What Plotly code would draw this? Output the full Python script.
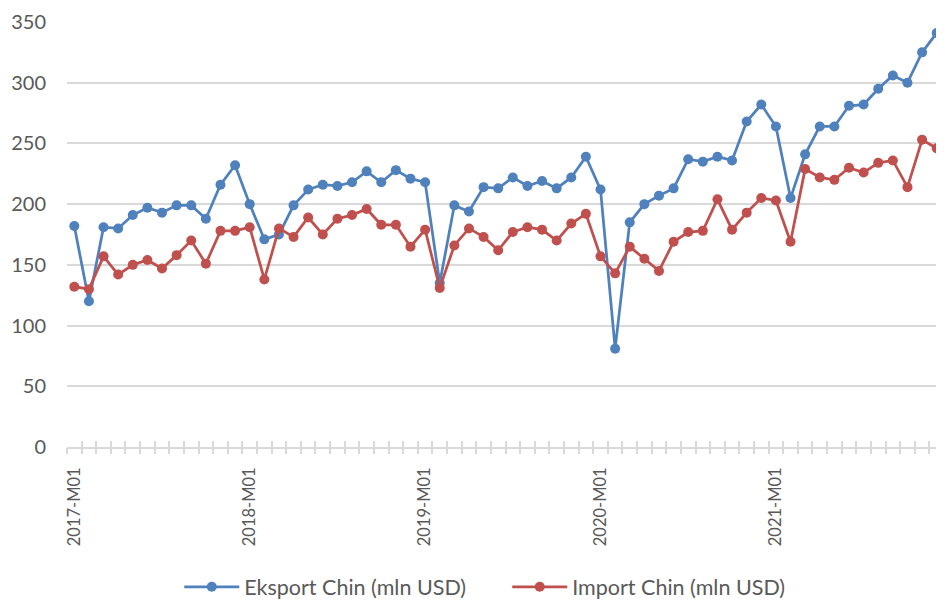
import plotly.graph_objects as go

months = [f"{y}-M{m:02d}" for y in range(2017, 2022) for m in range(1, 13)]

eksport = [182, 120, 181, 180, 191, 197, 193, 199, 199, 188, 216, 232,
           200, 171, 175, 199, 212, 216, 215, 218, 227, 218, 228, 221,
           218, 135, 199, 194, 214, 213, 222, 215, 219, 213, 222, 239,
           212, 81, 185, 200, 207, 213, 237, 235, 239, 236, 268, 282,
           264, 205, 241, 264, 264, 281, 282, 295, 306, 300, 325, 341]

import_ = [132, 130, 157, 142, 150, 154, 147, 158, 170, 151, 178, 178,
           181, 138, 180, 173, 189, 175, 188, 191, 196, 183, 183, 165,
           179, 131, 166, 180, 173, 162, 177, 181, 179, 170, 184, 192,
           157, 143, 165, 155, 145, 169, 177, 178, 204, 179, 193, 205,
           203, 169, 229, 222, 220, 230, 226, 234, 236, 214, 253, 246]

label_idx = [0, 12, 24, 36, 48]

FONT = "Lato"
TXT = "#595959"
GRID = "#d9d9d9"
BLUE = "#4F81BD"
RED = "#C0504D"

x = list(range(len(months)))

fig = go.Figure()
fig.add_trace(go.Scatter(x=x, y=eksport, mode="lines+markers", name="Eksport Chin (mln USD)",
                         line=dict(color=BLUE, width=2.75), marker=dict(color=BLUE, size=10),
                         cliponaxis=False))
fig.add_trace(go.Scatter(x=x, y=import_, mode="lines+markers", name="Import Chin (mln USD)",
                         line=dict(color=RED, width=2.75), marker=dict(color=RED, size=10),
                         cliponaxis=False))
# helper traces so the tick-mark axes are drawn
for ax in ["x2", "x3"]:
    fig.add_trace(go.Scatter(x=[x[0]], y=[eksport[0]], xaxis=ax, yaxis="y", mode="markers",
                             marker=dict(opacity=0), showlegend=False, hoverinfo="skip"))

rng = [-0.5, len(months) - 0.5]
fig.update_layout(
    width=936, height=593,
    margin=dict(l=59, r=0, t=14, b=154, autoexpand=False),
    paper_bgcolor="white", plot_bgcolor="white",
    font=dict(family=FONT, color=TXT),
    xaxis=dict(range=rng, tickmode="array", tickvals=label_idx,
               ticktext=[months[i] for i in label_idx], tickangle=-90,
               ticks="", showgrid=False, zeroline=False, automargin=False,
               showline=True, linecolor=GRID, linewidth=1.5,
               tickfont=dict(size=16.5, color=TXT, family=FONT),
               ticklabelstandoff=12),
    xaxis2=dict(range=rng, overlaying="x", anchor="y", side="bottom",
                tickmode="linear", tick0=-0.5, dtick=1, ticks="outside",
                ticklen=6, tickcolor=GRID, tickwidth=1.5, automargin=False,
                showticklabels=False, showgrid=False, zeroline=False, showline=False),
    xaxis3=dict(range=rng, overlaying="x", anchor="y", side="bottom",
                tickmode="linear", tick0=-0.5, dtick=1, ticks="inside",
                ticklen=6, tickcolor=GRID, tickwidth=1.5, automargin=False,
                showticklabels=False, showgrid=False, zeroline=False, showline=False),
    yaxis=dict(range=[0, 350], tickmode="linear", tick0=0, dtick=50, automargin=False,
               showgrid=True, gridcolor=GRID, gridwidth=1.5, zeroline=False,
               showline=False, ticks="", tickfont=dict(size=20, color=TXT, family=FONT),
               ticklabelstandoff=20),
    legend=dict(orientation="h", x=0.502, xanchor="center", y=-0.329, yanchor="middle",
                font=dict(size=21.5, color=TXT, family=FONT), itemwidth=55,
                entrywidth=258, bgcolor="rgba(0,0,0,0)"),
    showlegend=True,
)

fig.write_html("out.html")
